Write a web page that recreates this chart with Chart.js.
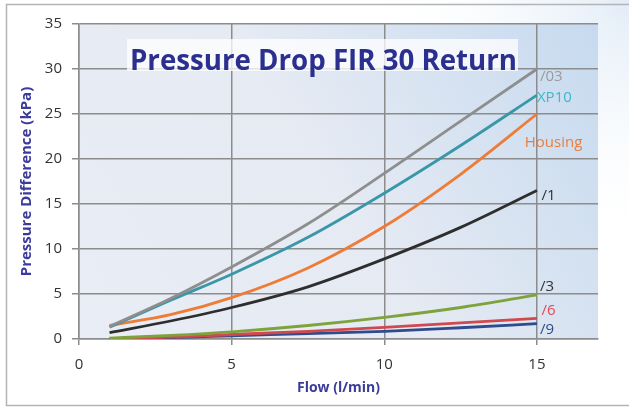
<!DOCTYPE html>
<html>
<head>
<meta charset="utf-8">
<script src="https://cdn.jsdelivr.net/npm/chart.js@4.4.1/dist/chart.umd.min.js"></script>
<style>
  html, body { margin: 0; padding: 0; background: #fff; }
  #wrap { width: 629px; height: 408px; position: relative; }
</style>
</head>
<body>
<div id="wrap"><canvas id="chart" width="629" height="408"></canvas></div>
<script>
// flow values (l/min)
var flow = [1, 3, 5, 7.5, 10, 12.5, 15];

var series_names = ["/03", "XP10", "Housing", "/1", "/3", "/6", "/9"];
var p_03      = [1.4, 4.5, 8.0, 12.8, 18.4, 24.2, 30.0];
var p_xp10    = [1.3, 4.3, 7.2, 11.3, 16.2, 21.5, 27.1];
var p_housing = [1.5, 2.7, 4.6, 7.9, 12.5, 18.3, 25.0];
var p_1       = [0.7, 2.0, 3.5, 5.8, 8.9, 12.4, 16.5];
var p_3       = [0.1, 0.4, 0.8, 1.5, 2.4, 3.5, 4.9];
var p_6       = [0.05, 0.2, 0.5, 0.85, 1.3, 1.8, 2.3];
var p_9       = [0.02, 0.15, 0.35, 0.6, 0.85, 1.25, 1.7];

var x_ticks = [0, 5, 10, 15];
var y_ticks = [0, 5, 10, 15, 20, 25, 30, 35];

var line_colors  = ["#8e8e8e", "#3a97a8", "#ee7b36", "#2e2e2e", "#7ea33c", "#d0494f", "#2d4b8d"];
var label_colors = ["#9a9a9a", "#3cb8c8", "#e97e3e", "#333333", "#333333", "#e04a55", "#2d4b8d"];
// where the end labels sit (data units)
var label_y = [29.1, 26.8, 21.8, 15.9, 5.8, 3.1, 1.0];
var label_x = [15.1, 15.0, 14.6, 15.15, 15.1, 15.15, 15.1];

function pts(vals) {
    return vals.map(function(v, i){ return {x: flow[i], y: v}; });
}

var all_vals = [p_03, p_xp10, p_housing, p_1, p_3, p_6, p_9];
var datasets = all_vals.map(function(vals, i){
    return {
        label: series_names[i],
        data: pts(vals),
        borderColor: line_colors[i],
        borderWidth: 2.8,
        pointRadius: 0,
        cubicInterpolationMode: 'monotone',
        fill: false
    };
});

var backgrounds = {
    id: 'backgrounds',
    beforeDraw: function(chart) {
        var ctx = chart.ctx;
        var a = chart.chartArea;
        ctx.save();
        ctx.fillStyle = "#ffffff";
        ctx.fillRect(0, 0, 629, 408);
        var g = ctx.createRadialGradient(629, 0, 0, 629, 0, 260);
        g.addColorStop(0, "#e2ecf7");
        g.addColorStop(1, "rgba(255,255,255,0)");
        ctx.fillStyle = g;
        ctx.fillRect(0, 0, 629, 408);
        ctx.strokeStyle = "#b4b4b4";
        ctx.lineWidth = 1.5;
        ctx.beginPath();
        ctx.moveTo(629, 4.5); ctx.lineTo(6.5, 4.5); ctx.lineTo(6.5, 405.5); ctx.lineTo(629, 405.5);
        ctx.stroke();
        var g2 = ctx.createLinearGradient(a.left, a.bottom, a.right, a.top);
        g2.addColorStop(0, "#e9edf5");
        g2.addColorStop(0.5, "#e5eaf3");
        g2.addColorStop(1, "#c6daef");
        ctx.fillStyle = g2;
        ctx.fillRect(a.left, a.top, a.right - a.left, a.bottom - a.top);
        ctx.restore();
    },
    afterDatasetsDraw: function(chart) {
        var ctx = chart.ctx;
        var xs = chart.scales.x, ys = chart.scales.y;
        ctx.save();
        // title box
        ctx.fillStyle = "rgba(255,255,255,0.75)";
        ctx.fillRect(127, 39, 391, 32);
        ctx.fillStyle = "#2b2f8f";
        ctx.font = "bold 28px 'Open Sans'";
        ctx.textBaseline = "alphabetic";
        ctx.textAlign = "left";
        ctx.fillText("Pressure Drop FIR 30 Return", 130, 70, 387);
        // end labels
        ctx.font = "15px 'Open Sans'";
        ctx.textBaseline = "middle";
        series_names.forEach(function(name, i){
            ctx.fillStyle = label_colors[i];
            ctx.fillText(name, xs.getPixelForValue(label_x[i]), ys.getPixelForValue(label_y[i]), name.length > 4 ? 60 : 40);
        });
        ctx.restore();
    }
};

var ctx = document.getElementById("chart").getContext("2d");
var myChart = new Chart(ctx, {
    type: 'line',
    data: { datasets: datasets },
    options: {
        responsive: false,
        animation: false,
        devicePixelRatio: 1,
        layout: { padding: { left: 0, top: 24, right: 31, bottom: 0 } },
        plugins: { legend: { display: false }, tooltip: { enabled: false } },
        scales: {
            x: {
                type: 'linear',
                min: 0, max: 17,
                afterBuildTicks: function(axis) {
                    axis.ticks = x_ticks.map(function(v){ return {value: v}; });
                },
                afterFit: function(axis) { axis.height = 69; },
                grid: { color: "#8c8c8c", lineWidth: 1.5, tickLength: 6 },
                border: { color: "#8c8c8c", width: 1.5 },
                ticks: { color: "#333", font: { family: "Open Sans", size: 15 }, padding: 11, maxRotation: 0 },
                title: { display: true, text: "Flow (l/min)", color: "#3b3b9b",
                         font: { family: "Open Sans", size: 14, weight: 'bold' }, padding: { top: 12, bottom: 12 } }
            },
            y: {
                min: 0, max: 35,
                afterBuildTicks: function(axis) {
                    axis.ticks = y_ticks.map(function(v){ return {value: v}; });
                },
                afterFit: function(axis) { axis.width = 79; },
                grid: { color: "#8c8c8c", lineWidth: 1.5, tickLength: 7 },
                border: { color: "#8c8c8c", width: 1.5 },
                ticks: { color: "#333", font: { family: "Open Sans", size: 15 }, padding: 10 },
                title: { display: true, text: "Pressure Difference (kPa)", color: "#3b3b9b",
                         font: { family: "Open Sans", size: 15, weight: 'bold' }, padding: { top: 18, bottom: 18 } }
            }
        }
    },
    plugins: [backgrounds]
});
</script>
</body>
</html>
